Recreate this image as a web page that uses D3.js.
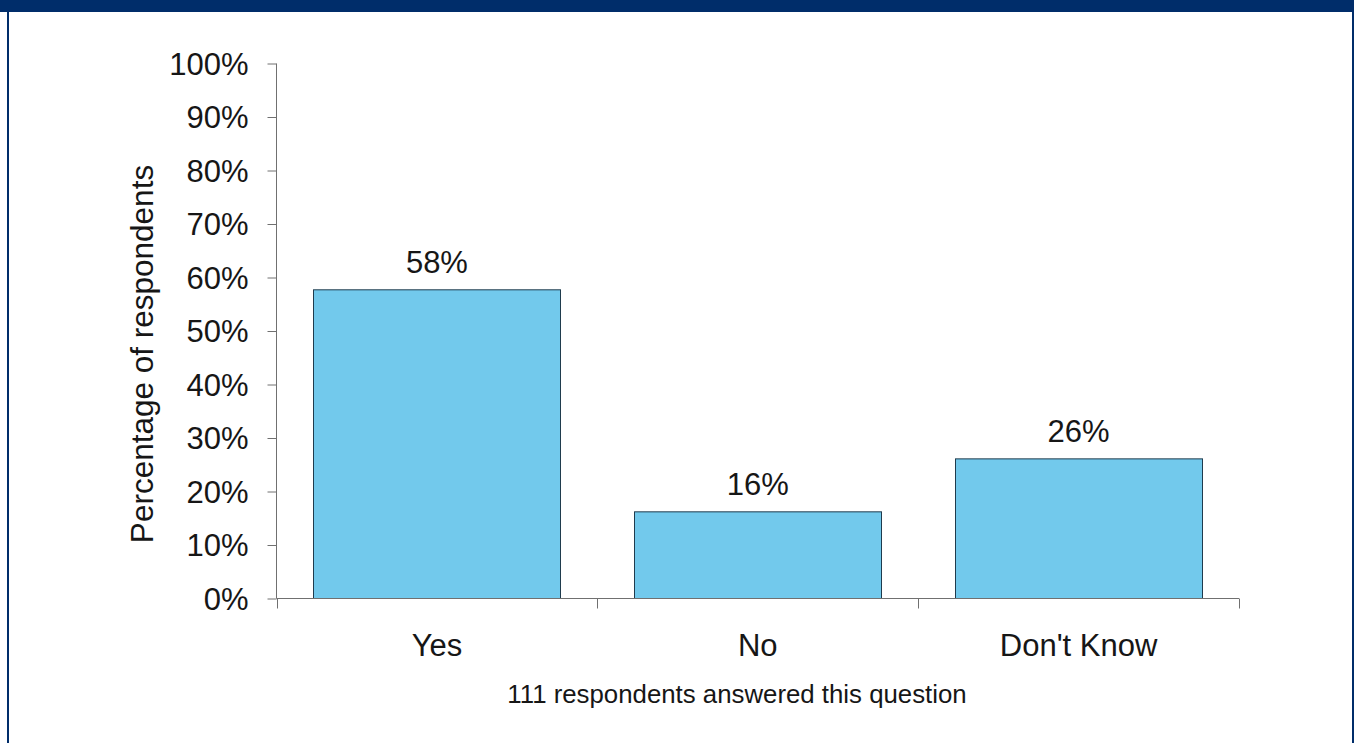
<!DOCTYPE html>
<html>
<head>
<meta charset="utf-8">
<script src="https://cdn.jsdelivr.net/npm/d3@7"></script>
<style>
  html, body { margin: 0; padding: 0; background: #fff; }
  svg { display: block; }
  text { font-family: "Liberation Sans", Arial, sans-serif; fill: #161616; }
</style>
</head>
<body>
<svg id="chart" width="1354" height="743"></svg>
<script>
// Survey responses (share of 111 respondents)
const categories = ["Yes", "No", "Don't Know"];
const values = [57.7, 16.2, 26.1];
const yTicks = [0, 10, 20, 30, 40, 50, 60, 70, 80, 90, 100];
const yTitle = "Percentage of respondents";
const footnote = "111 respondents answered this question";

const W = 1354, H = 743;
const svg = d3.select("#chart");

// Panel frame: navy header band and side borders
const navy = "#002d6a";
svg.append("rect").attr("x", 0).attr("y", 0).attr("width", W).attr("height", 12).attr("fill", navy);
svg.append("rect").attr("x", 7).attr("y", 12).attr("width", 2).attr("height", H - 12).attr("fill", navy);
svg.append("rect").attr("x", 1352).attr("y", 12).attr("width", 2).attr("height", H - 12).attr("fill", navy);

const x = d3.scaleBand()
  .domain(categories)
  .range([276.5, 1239])
  .paddingInner(0.23)
  .paddingOuter(0.115);

const y = d3.scaleLinear().domain([0, 100]).range([598.5, 63.5]);

const axisColor = "#707070";
const labelSize = 31;

// Bars
svg.append("g").selectAll("rect")
  .data(categories)
  .join("rect")
  .attr("x", d => Math.round(x(d)) + 0.5)
  .attr("y", (d, i) => y(values[i]))
  .attr("width", Math.round(x.bandwidth()))
  .attr("height", (d, i) => y(0) - y(values[i]))
  .attr("fill", "#72c9ec")
  .attr("stroke", "#1f3b4d")
  .attr("stroke-width", 1);

// Value labels
svg.append("g").selectAll("text")
  .data(categories)
  .join("text")
  .attr("x", d => x(d) + x.bandwidth() / 2)
  .attr("y", (d, i) => y(values[i]) - 17)
  .attr("text-anchor", "middle")
  .attr("font-size", labelSize)
  .text((d, i) => d3.format(".0f")(values[i]) + "%");

// Y axis
const yAxis = svg.append("g")
  .attr("transform", "translate(276.5,0)")
  .call(d3.axisLeft(y).tickValues(yTicks).tickSize(9).tickPadding(19)
    .tickFormat(d => d + "%"));
yAxis.select(".domain").attr("stroke", axisColor).attr("d", `M0,${y(100)}V${y(0)}`);
yAxis.selectAll(".tick line").attr("stroke", axisColor);
yAxis.selectAll(".tick text")
  .attr("font-size", labelSize)
  .attr("font-family", "Liberation Sans, Arial, sans-serif")
  .attr("fill", "#161616")
  .attr("dy", "0.35em");

// X axis: baseline with ticks at category boundaries
const xg = svg.append("g");
xg.append("line")
  .attr("x1", 276.5).attr("x2", 1239)
  .attr("y1", y(0)).attr("y2", y(0))
  .attr("stroke", axisColor);
const bounds = categories.map(d => x(d) - x.step() * x.paddingInner() / 2);
bounds.push(1239);
bounds[0] = 276.5;
xg.selectAll("line.tick")
  .data(bounds)
  .join("line")
  .attr("class", "tick")
  .attr("x1", d => Math.round(d) + 0.5).attr("x2", d => Math.round(d) + 0.5)
  .attr("y1", y(0)).attr("y2", y(0) + 10)
  .attr("stroke", axisColor);

xg.selectAll("text")
  .data(categories)
  .join("text")
  .attr("x", d => x(d) + x.bandwidth() / 2)
  .attr("y", 656)
  .attr("text-anchor", "middle")
  .attr("font-size", labelSize)
  .text(d => d);

// Y axis title
svg.append("text")
  .attr("transform", "translate(153,354) rotate(-90)")
  .attr("text-anchor", "middle")
  .attr("font-size", 31.5)
  .text(yTitle);

// Footnote
svg.append("text")
  .attr("x", 737)
  .attr("y", 703)
  .attr("text-anchor", "middle")
  .attr("font-size", 25.8)
  .text(footnote);
</script>
</body>
</html>
